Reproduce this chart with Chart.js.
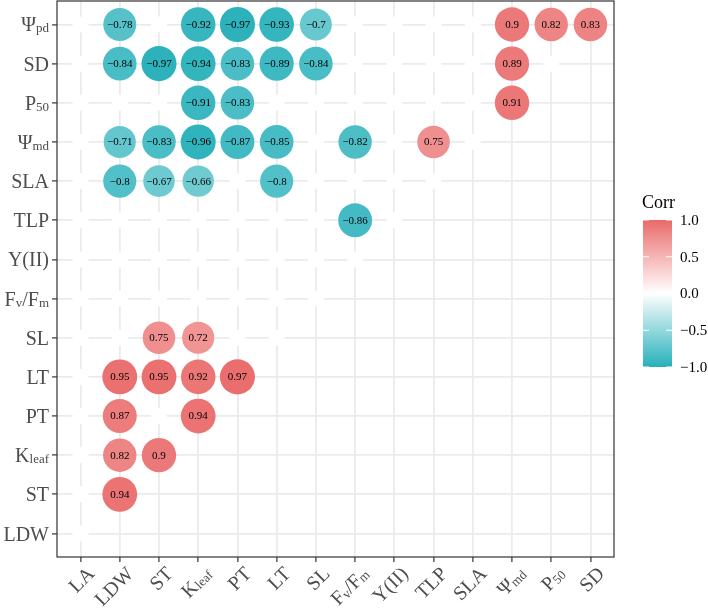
<!DOCTYPE html>
<html>
<head>
<meta charset="utf-8">
<script src="https://cdn.jsdelivr.net/npm/chart.js@4.4.0/dist/chart.umd.min.js"></script>
<style>
  body { margin: 0; background: #ffffff; }
</style>
</head>
<body>
<canvas id="corrChart" width="708" height="610"></canvas>
<script>
// variable names, {..} = subscript part
var xLabels = ["LA", "LDW", "ST", "K{leaf}", "PT", "LT", "SL", "F{v}/F{m}", "Y(II)", "TLP", "SLA", "\u03a8{md}", "P{50}", "SD"];
// rows from bottom to top
var yLabels = ["LDW", "ST", "K{leaf}", "PT", "LT", "SL", "F{v}/F{m}", "Y(II)", "TLP", "SLA", "\u03a8{md}", "P{50}", "SD", "\u03a8{pd}"];

// significant correlations per row (columns follow xLabels), null = blank
var rowLDW   = [null, null, null, null, null, null, null, null, null, null, null, null, null, null];
var rowST    = [null, 0.94, null, null, null, null, null, null, null, null, null, null, null, null];
var rowKleaf = [null, 0.82, 0.9, null, null, null, null, null, null, null, null, null, null, null];
var rowPT    = [null, 0.87, null, 0.94, null, null, null, null, null, null, null, null, null, null];
var rowLT    = [null, 0.95, 0.95, 0.92, 0.97, null, null, null, null, null, null, null, null, null];
var rowSL    = [null, null, 0.75, 0.72, null, null, null, null, null, null, null, null, null, null];
var rowFvFm  = [null, null, null, null, null, null, null, null, null, null, null, null, null, null];
var rowYII   = [null, null, null, null, null, null, null, null, null, null, null, null, null, null];
var rowTLP   = [null, null, null, null, null, null, null, -0.86, null, null, null, null, null, null];
var rowSLA   = [null, -0.8, -0.67, -0.66, null, -0.8, null, null, null, null, null, null, null, null];
var rowPsiMd = [null, -0.71, -0.83, -0.96, -0.87, -0.85, null, -0.82, null, 0.75, null, null, null, null];
var rowP50   = [null, null, null, -0.91, -0.83, null, null, null, null, null, null, 0.91, null, null];
var rowSD    = [null, -0.84, -0.97, -0.94, -0.83, -0.89, -0.84, null, null, null, null, 0.89, null, null];
var rowPsiPd = [null, -0.78, null, -0.92, -0.97, -0.93, -0.7, null, null, null, null, 0.9, 0.82, 0.83];

var rows = [rowLDW, rowST, rowKleaf, rowPT, rowLT, rowSL, rowFvFm, rowYII, rowTLP, rowSLA, rowPsiMd, rowP50, rowSD, rowPsiPd];

var legendBreaks = [1.0, 0.5, 0.0, -0.5, -1.0];
var legendLabels = ["1.0", "0.5", "0.0", "\u22120.5", "\u22121.0"];

var LOW = [38, 176, 186], HIGH = [234, 106, 106];
var SERIF = "'Liberation Serif', 'Times New Roman', serif";

function colorFor(v) {
  var c = v < 0 ? LOW : HIGH, t = Math.abs(v);
  var r = Math.round(255 + (c[0] - 255) * t);
  var g = Math.round(255 + (c[1] - 255) * t);
  var b = Math.round(255 + (c[2] - 255) * t);
  return "rgb(" + r + "," + g + "," + b + ")";
}

function fmt(v) {
  return (v < 0 ? "\u2212" : "") + String(Math.abs(v));
}

var sigPoints = [], blankPoints = [];
rows.forEach(function (row, j) {
  row.forEach(function (v, i) {
    if (i > j) return; // lower triangle only
    if (v === null) blankPoints.push({x: i, y: j});
    else sigPoints.push({x: i, y: j, v: v});
  });
});

function parseLabel(s) {
  var parts = [], re = /([^{]+)|\{([^}]*)\}/g, m;
  while ((m = re.exec(s))) {
    if (m[1]) parts.push({t: m[1], sub: false});
    else parts.push({t: m[2], sub: true});
  }
  return parts;
}

function drawRich(ctx, s, x, y, align) {
  var parts = parseLabel(s), w = 0;
  parts.forEach(function (p) {
    ctx.font = (p.sub ? "13px " : "20px ") + SERIF;
    p.w = ctx.measureText(p.t).width;
    w += p.w;
  });
  var cx = align === "right" ? x - w : x;
  ctx.textAlign = "left";
  ctx.textBaseline = "alphabetic";
  parts.forEach(function (p) {
    ctx.font = (p.sub ? "13px " : "20px ") + SERIF;
    ctx.fillText(p.t, cx, y + (p.sub ? 1 : 0));
    cx += p.w;
  });
}

var decor = {
  id: "decor",
  afterDatasetsDraw: function (chart) {
    var ctx = chart.ctx, area = chart.chartArea;
    var xs = chart.scales.x, ys = chart.scales.y;

    // values inside circles
    var meta = chart.getDatasetMeta(0);
    ctx.save();
    ctx.fillStyle = "#000000";
    ctx.font = "11px " + SERIF;
    ctx.textAlign = "center";
    ctx.textBaseline = "middle";
    meta.data.forEach(function (pt, k) {
      ctx.fillText(fmt(sigPoints[k].v), pt.x, pt.y + 0.5);
    });

    // panel border
    ctx.strokeStyle = "#333333";
    ctx.lineWidth = 1.2;
    ctx.strokeRect(area.left, area.top, area.right - area.left, area.bottom - area.top);

    // axis labels
    ctx.fillStyle = "#4d4d4d";
    yLabels.forEach(function (lab, j) {
      drawRich(ctx, lab, 49, ys.getPixelForValue(j) + 7, "right");
    });
    xLabels.forEach(function (lab, i) {
      ctx.save();
      ctx.translate(xs.getPixelForValue(i) + 5, area.bottom + 8);
      ctx.rotate(-Math.PI / 4);
      drawRich(ctx, lab, 0, 14, "right");
      ctx.restore();
    });

    // colour bar legend
    var bx = 643, bw = 29, top = 220, bottom = 367;
    var grad = ctx.createLinearGradient(0, top, 0, bottom);
    for (var k = 0; k <= 20; k++) {
      grad.addColorStop(k / 20, colorFor(1 - k / 10));
    }
    ctx.fillStyle = grad;
    ctx.fillRect(bx, top, bw, bottom - top);
    ctx.strokeStyle = "#ffffff";
    ctx.lineWidth = 1;
    ctx.fillStyle = "#000000";
    ctx.font = "15px " + SERIF;
    ctx.textAlign = "left";
    ctx.textBaseline = "middle";
    legendBreaks.forEach(function (b, k) {
      var y = top + (1 - b) / 2 * (bottom - top);
      ctx.beginPath();
      ctx.moveTo(bx, y); ctx.lineTo(bx + 6, y);
      ctx.moveTo(bx + bw - 6, y); ctx.lineTo(bx + bw, y);
      ctx.stroke();
      ctx.fillText(legendLabels[k], 680, y + 1);
    });
    ctx.font = "18px " + SERIF;
    ctx.textBaseline = "alphabetic";
    ctx.fillText("Corr", 642, 208);
    ctx.restore();
  }
};

function intTicks(scale) {
  scale.ticks = xLabels.map(function (d, i) { return {value: i}; });
}

var chart = new Chart("corrChart", {
  type: "scatter",
  data: {
    datasets: [
      {
        data: sigPoints,
        pointRadius: function (c) { return c.raw ? 1.77 * (4 + 6 * Math.sqrt(Math.abs(c.raw.v))) : 0; },
        backgroundColor: function (c) { return c.raw ? colorFor(c.raw.v) : "#fff"; },
        borderWidth: 0,
        pointHoverRadius: 0
      },
      {
        data: blankPoints,
        pointRadius: 8,
        backgroundColor: "#ffffff",
        borderWidth: 0
      }
    ]
  },
  plugins: [decor],
  options: {
    responsive: false,
    animation: false,
    events: [],
    layout: {autoPadding: false, padding: {left: 52, right: 94, top: 1, bottom: 48}},
    plugins: {legend: {display: false}, tooltip: {enabled: false}},
    scales: {
      x: {
        type: "linear", min: -0.6, max: 13.6,
        afterBuildTicks: intTicks,
        ticks: {display: false},
        border: {display: false},
        grid: {color: "#ebebeb", lineWidth: 1.8, tickColor: "#333333", tickWidth: 1.2, tickLength: 5}
      },
      y: {
        type: "linear", min: -0.6, max: 13.6,
        afterBuildTicks: intTicks,
        ticks: {display: false},
        border: {display: false},
        grid: {color: "#ebebeb", lineWidth: 1.8, tickColor: "#333333", tickWidth: 1.2, tickLength: 5}
      }
    }
  }
});
</script>
</body>
</html>
